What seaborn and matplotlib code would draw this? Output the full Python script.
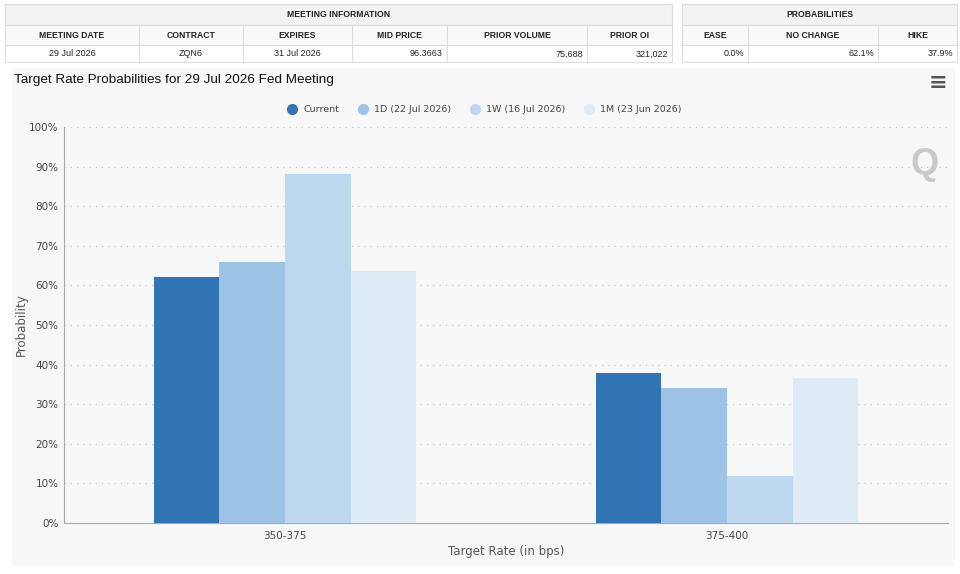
"""
Target rate probabilities chart with meeting info tables on top
"""

import pandas as pd
import matplotlib.pyplot as plt
import matplotlib.ticker as ticker
from matplotlib.lines import Line2D
from matplotlib.patches import Rectangle
import seaborn as sns

# data
rates = ["350-375", "375-400"]
series = ["Current", "1D (22 Jul 2026)", "1W (16 Jul 2026)", "1M (23 Jun 2026)"]
current = [62.1, 37.9]
one_day = [65.9, 34.1]
one_week = [88.1, 11.9]
one_month = [63.6, 36.6]
colors = ["#3074b4", "#9dc3e6", "#bdd7ee", "#ddebf7"]

info_headers = ["MEETING DATE", "CONTRACT", "EXPIRES", "MID PRICE", "PRIOR VOLUME", "PRIOR OI"]
info_values = ["29 Jul 2026", "ZQN6", "31 Jul 2026", "96.3663", "75,688", "321,022"]
info_align = ["center", "center", "center", "right", "right", "right"]
prob_headers = ["EASE", "NO CHANGE", "HIKE"]
prob_values = ["0.0%", "62.1%", "37.9%"]

W, H = 960, 574


def px(x, y):
    return x / W, 1 - y / H


def draw_table(fig, title, cols, headers, values, aligns):
    x0, x1 = cols[0], cols[-1]
    rows = [(4, 25, "#f3f3f3"), (25, 45, "#f9f9f9"), (45, 62, "white")]
    for top, bot, fc in rows:
        fx, fy = px(x0, bot)
        fig.patches.append(Rectangle((fx, fy), (x1 - x0) / W, (bot - top) / H,
                                     transform=fig.transFigure, facecolor=fc,
                                     edgecolor="#dddddd", lw=0.8))
    for c in cols[1:-1]:
        fig.add_artist(Line2D([c / W, c / W], [1 - 25 / H, 1 - 62 / H],
                              transform=fig.transFigure, color="#dddddd", lw=0.8))
    fig.text(*px((x0 + x1) / 2, 14.5), title, ha="center", va="center",
             fontsize=6.2, fontweight="bold", family="Liberation Sans", color="#222")
    for i, (h, v, a) in enumerate(zip(headers, values, aligns)):
        l, r = cols[i], cols[i + 1]
        fig.text(*px((l + r) / 2, 35.5), h, ha="center", va="center",
                 fontsize=6.2, fontweight="bold", family="Liberation Sans", color="#222")
        if a == "center":
            fig.text(*px((l + r) / 2, 54), v, ha="center", va="center",
                     fontsize=6.5, family="Liberation Sans", color="#222")
        else:
            fig.text(*px(r - 4, 54), v, ha="right", va="center",
                     fontsize=6.5, family="Liberation Sans", color="#222")


sns.set_theme(style="white")
fig = plt.figure(figsize=(9.6, 5.74), dpi=100)
fig.patch.set_facecolor("white")

# chart panel background
fx, fy = px(12, 566)
fig.patches.append(Rectangle((fx, fy), (955 - 12) / W, (566 - 68) / H,
                             transform=fig.transFigure, facecolor="#f7f7f7",
                             edgecolor="none", zorder=-10))

draw_table(fig, "MEETING INFORMATION", [5, 139, 243, 352, 447, 587, 672],
           info_headers, info_values, info_align)
draw_table(fig, "PROBABILITIES", [682, 748, 878, 957],
           prob_headers, prob_values, ["right"] * 3)

df = pd.DataFrame({
    "rate": rates * 4,
    "series": [s for s in series for _ in rates],
    "prob": current + one_day + one_week + one_month,
})

ax = fig.add_axes([64 / W, 51 / H, (948 - 64) / W, (523 - 127) / H])
ax.set_zorder(5)
ax.set_facecolor("#f7f7f7")
sns.barplot(df, x="rate", y="prob", hue="series", palette=colors,
            width=0.593, saturation=1, ax=ax, legend=False, zorder=3,
            linewidth=0)
ax.set_ylim(0, 100)
ax.set_xlim(-0.5, 1.5)
ax.yaxis.set_major_locator(ticker.MultipleLocator(10))
ax.yaxis.set_major_formatter(ticker.FuncFormatter(lambda v, p: f"{v:.0f}%"))
ax.grid(axis="y", linestyle=(0, (1, 4)), color="#c8c8c8", lw=0.9, zorder=0)
ax.set_axisbelow(True)
for s in ["top", "right"]:
    ax.spines[s].set_visible(False)
ax.spines["left"].set_color("#aaaaaa")
ax.spines["bottom"].set_color("#aaaaaa")
ax.spines["left"].set_linewidth(0.8)
ax.spines["bottom"].set_linewidth(0.8)
ax.tick_params(axis="both", labelsize=7.5, colors="#444", length=0, pad=4)
ax.tick_params(axis="x", pad=6)
ax.set_xlabel("Target Rate (in bps)", fontsize=8.5, color="#555", labelpad=3)
ax.set_ylabel("Probability", fontsize=8.5, color="#555", labelpad=1)

fig.text(*px(14, 80), "Target Rate Probabilities for 29 Jul 2026 Fed Meeting",
         ha="left", va="center", fontsize=9.7, family="Liberation Sans", color="#111")
fig.text(*px(938, 83), "≡", ha="center", va="center", fontsize=16,
         color="#555", fontweight="bold")
fig.text(*px(925, 165), "Q", ha="center", va="center", fontsize=26,
         color="#c9c9c9", fontweight="bold", family="Liberation Sans", zorder=10)

handles = [Line2D([], [], marker="o", ls="none", color=c, markersize=7) for c in colors]
fig.legend(handles, series, loc="center", bbox_to_anchor=(482 / W, 1 - 110 / H),
           ncol=4, frameon=False, fontsize=6.8, labelcolor="#444",
           handletextpad=0.2, columnspacing=1.5)

plt.savefig("out.png", dpi=100)
